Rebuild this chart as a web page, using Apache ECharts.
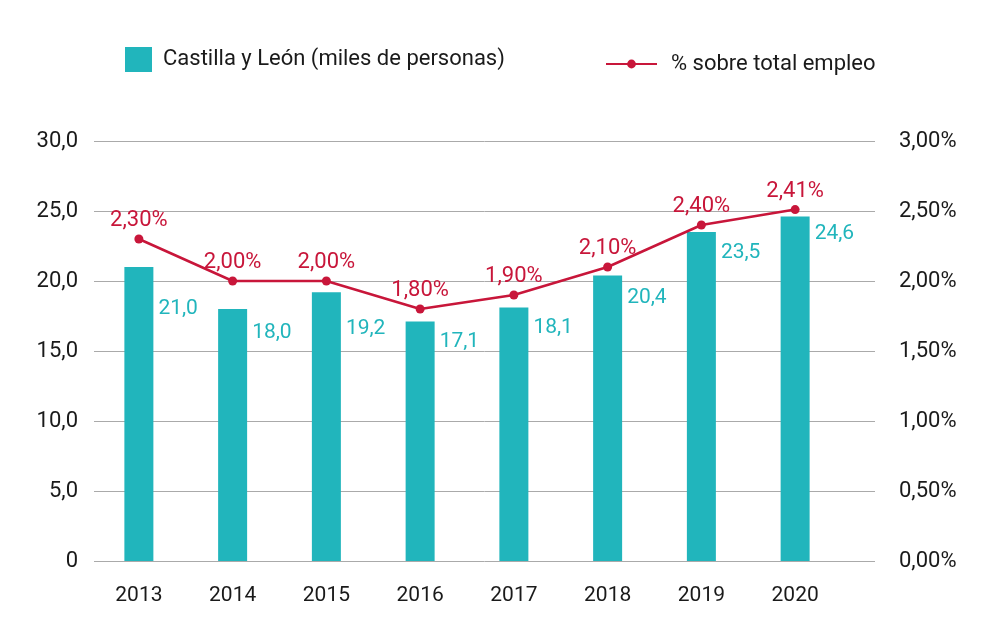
<!DOCTYPE html>
<html>
<head>
<meta charset="utf-8">
<script src="https://cdn.jsdelivr.net/npm/echarts@6/dist/echarts.min.js"></script>
<style>
  html, body { margin: 0; padding: 0; background: #fff; }
  #chart { width: 993px; height: 632px; }
</style>
</head>
<body>
<div id="chart"></div>
<script>
// datos
const years = ['2013', '2014', '2015', '2016', '2017', '2018', '2019', '2020'];
const miles = [21.0, 18.0, 19.2, 17.1, 18.1, 20.4, 23.5, 24.6];
// posición del punto tal como aparece en el gráfico
const pctEmpleo = [2.30, 2.00, 2.00, 1.80, 1.90, 2.10, 2.40, 2.51];
// etiquetas tal como están escritas en el gráfico
const pctLabels = ['2,30%', '2,00%', '2,00%', '1,80%', '1,90%', '2,10%', '2,40%', '2,41%'];

const leftMax = 30, leftStep = 5;
const rightMax = 3, rightStep = 0.5;

// desplazamiento vertical de las etiquetas de barra (px bajo el borde superior)
const barLabelDy = [31, 13, 26, 10, 10, 12, 10, 7];

const TEAL = '#21b5bc';
const RED = '#c8163a';
const FONT = 'Roboto';
const INK = '#1a1a1a';

const chart = echarts.init(document.getElementById('chart'));

const fmtLeft = v => v === 0 ? '0' : v.toFixed(1).replace('.', ',');
const fmtPct = v => v.toFixed(2).replace('.', ',') + '%';

const option = {
  backgroundColor: '#fff',
  animation: false,
  textStyle: { fontFamily: FONT },
  legend: [
    {
      data: [{ name: 'Castilla y León (miles de personas)', icon: 'rect' }],
      left: 120, top: 42,
      itemWidth: 27, itemHeight: 25,
      textStyle: { fontSize: 22, color: INK, fontFamily: FONT, padding: [0, 0, 0, 6] }
    },
    {
      data: ['% sobre total empleo'],
      left: 600, top: 48,
      itemWidth: 51, itemHeight: 11,
      textStyle: { fontSize: 22, color: INK, fontFamily: FONT, padding: [0, 0, 0, 9] }
    }
  ],
  grid: [
    { left: 94, right: 118, top: 141, bottom: 71 },
    { left: 92, width: 750, top: 141, bottom: 71 }
  ],
  xAxis: [
    { type: 'category', gridIndex: 0, data: years, show: false },
    {
      type: 'category', gridIndex: 1, data: years,
      axisLine: { show: false }, axisTick: { show: false },
      axisLabel: { margin: 24, fontSize: 21, color: INK, fontFamily: FONT }
    }
  ],
  yAxis: [
    {
      type: 'value', gridIndex: 0, min: 0, max: leftMax, interval: leftStep,
      axisLine: { show: false }, axisTick: { show: false },
      axisLabel: { margin: 16, fontSize: 22, color: INK, fontFamily: FONT, formatter: fmtLeft },
      splitLine: { lineStyle: { color: '#aaaaaa', width: 1 } }
    },
    {
      type: 'value', gridIndex: 0, position: 'right', min: 0, max: rightMax, interval: rightStep,
      axisLine: { show: false }, axisTick: { show: false },
      axisLabel: { margin: 24, fontSize: 22, color: INK, fontFamily: FONT, formatter: fmtPct },
      splitLine: { show: false }
    },
    { type: 'value', gridIndex: 1, min: 0, max: leftMax, show: false, splitLine: { show: false } },
    { type: 'value', gridIndex: 1, min: 0, max: rightMax, show: false, splitLine: { show: false } }
  ],
  series: [
    {
      name: 'Castilla y León (miles de personas)',
      type: 'bar', xAxisIndex: 1, yAxisIndex: 2,
      barWidth: 29,
      itemStyle: { color: TEAL },
      data: miles.map((v, i) => ({
        value: v,
        label: {
          show: true,
          position: [34, barLabelDy[i]],
          formatter: p => p.value.toFixed(1).replace('.', ','),
          color: TEAL, fontSize: 21, fontFamily: FONT
        }
      }))
    },
    {
      name: '% sobre total empleo',
      type: 'line', xAxisIndex: 1, yAxisIndex: 3,
      symbol: 'circle', symbolSize: 9,
      lineStyle: { color: RED, width: 2.5 },
      itemStyle: { color: RED },
      label: {
        show: true, position: 'top', distance: 3,
        formatter: p => pctLabels[p.dataIndex],
        color: RED, fontSize: 22, fontFamily: FONT
      },
      data: pctEmpleo,
      z: 5
    }
  ]
};

chart.setOption(option);
</script>
</body>
</html>
